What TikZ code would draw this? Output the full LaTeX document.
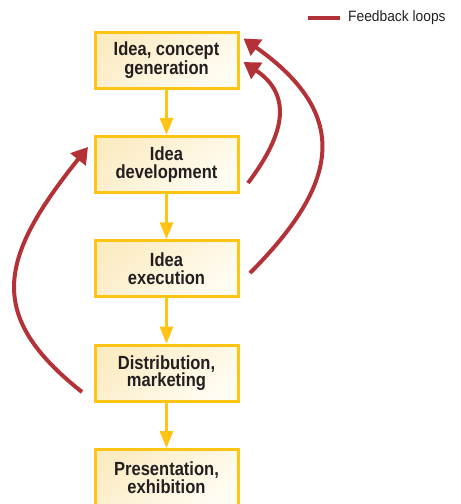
\documentclass[tikz,border=0pt]{standalone}
\usepackage{fontspec}
\setmainfont{Liberation Sans}
\newfontfamily\boxfont[FakeStretch=0.87]{Liberation Sans}
\newfontfamily\legendfont[FakeStretch=0.92]{Liberation Sans}
\usetikzlibrary{arrows.meta}

\definecolor{stageyellow}{RGB}{255,196,20}
\definecolor{creamtop}{RGB}{252,236,196}
\definecolor{creambottom}{RGB}{255,252,242}
\definecolor{loopred}{RGB}{178,50,56}
\definecolor{inkdark}{RGB}{35,31,32}

\tikzset{
  stagebox/.style={rectangle, draw=stageyellow, line width=3pt,
    minimum width=143pt, minimum height=56pt, inner sep=0pt,
    top color=creamtop, bottom color=creambottom, shading angle=40,
    align=center, text=inkdark,
    font=\boxfont\bfseries\fontsize{19pt}{17.5pt}\selectfont},
  flow/.style={draw=stageyellow, line width=3pt,
    -{Triangle[length=17pt,width=13pt]}},
  loop/.style={draw=loopred, line width=4pt,
    -{Triangle[length=16pt,width=19pt]}},
  legendline/.style={draw=loopred, line width=4pt},
}

\begin{document}
\begin{tikzpicture}[x=1pt,y=-1pt]
  \useasboundingbox (0,0) rectangle (461,504);
  \clip (0,0) rectangle (461,504);

  % process stages
  \node[stagebox] (b1) at (166.5,60.0)  {Idea, concept\\generation};
  \node[stagebox] (b2) at (166.5,164.4) {Idea\\development};
  \node[stagebox] (b3) at (166.5,268.8) {Idea\\execution};
  \node[stagebox] (b4) at (166.5,373.2) {Distribution,\\marketing};
  \node[stagebox] (b5) at (166.5,477.6) {Presentation,\\exhibition};

  % forward flow
  \draw[flow] (b1) -- (b2);
  \draw[flow] (b2) -- (b3);
  \draw[flow] (b3) -- (b4);
  \draw[flow] (b4) -- (b5);

  % feedback loop end points
  \coordinate (o1) at (250,273);
  \coordinate (t1) at (243.5,38.5);
  \coordinate (o2) at (248,183);
  \coordinate (t2) at (243.5,62);
  \coordinate (o3) at (82,392);
  \coordinate (t3) at (88,147);

  % feedback loops
  \draw[loop] (o1) .. controls (341,182) and (350,114) .. (t1);
  \draw[loop] (o2) .. controls (275,147) and (300,100) .. (t2);
  \draw[loop] (o3) .. controls (-14,316) and (-2,259) .. (t3);

  % legend
  \coordinate (l1) at (308,18);
  \coordinate (l2) at (340,18);
  \draw[legendline] (l1) -- (l2);
  \node[anchor=west, inner sep=0pt, text=inkdark,
        font=\legendfont\fontsize{15pt}{17pt}\selectfont] (legend) at (348,18) {Feedback loops};
\end{tikzpicture}
\end{document}
